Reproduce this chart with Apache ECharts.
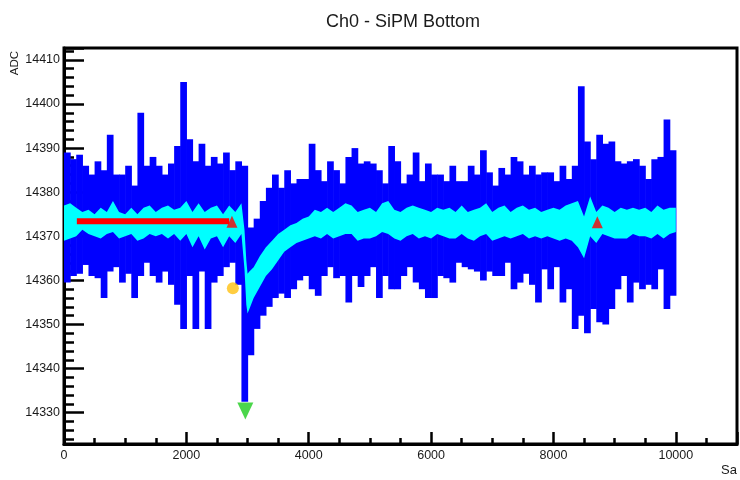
<!DOCTYPE html>
<html><head><meta charset="utf-8">
<script src="https://cdn.jsdelivr.net/npm/echarts@6/dist/echarts.min.js"></script>
<style>html,body{margin:0;padding:0;background:#fff}#c{width:740px;height:480px}</style>
</head><body><div id="c"></div>
<script>
// Raw waveform envelope, one entry per 100-sample bin (0..10000 Sa)
const BIN = 100;
const blueHi = [
14389,14387.5,14388.5,14386,14384,14387,14385,14393,14384,14384,
14386,14381.5,14398,14386,14388,14386,14384,14386.5,14390.5,14405,
14392,14387,14391,14386,14388,14386.5,14389,14385,14387,14386,
14372,14374,14378,14381,14384,14381,14385,14382,14383,14383,
14391,14385,14382.5,14387,14385,14382,14388,14390,14386.5,14387,
14386.5,14385,14382,14390.5,14387,14382,14384,14389,14382.5,14386.5,
14384,14384,14382.5,14386,14382.5,14382.5,14386,14384,14389.5,14384.5,
14381.5,14385.5,14384,14388,14387,14384,14386,14384,14384.5,14384.5,
14382.5,14386,14383,14386,14404,14391.5,14387.5,14393,14391,14391.5,
14387,14386.5,14387,14387.5,14386,14383,14387.5,14388,14396.5,14389.5];
const blueLo = [
14359.5,14361,14361.5,14363.5,14361,14360.5,14356,14362,14363,14359.5,
14361.5,14356,14361,14364,14361,14359.5,14362,14359,14354.5,14349,
14361,14349,14362,14349,14359.5,14361,14363,14364,14359,14332.5,
14343,14349,14352,14354,14356,14357,14356,14358,14360,14361,
14358,14356.5,14361,14363,14360.5,14361,14355,14361,14358.5,14361,
14363,14356,14361,14358,14358,14361,14363,14359.5,14358,14356,
14356,14361,14360.5,14359.5,14364,14363,14362.5,14362,14360,14362,
14361,14361,14364,14358,14359.5,14361.5,14359,14355,14362.5,14358,
14363,14355,14358,14349,14352,14348,14353.5,14350.5,14350,14353.5,
14358,14361,14355,14359.5,14358,14359,14358,14362.5,14353.5,14356.5];

// Smoothed waveform band
const cyanX = [0,100,200,300,400,500,600,700,800,900,1000,1100,1200,1300,1400,1500,1600,1700,1800,1900,
2000,2100,2200,2300,2400,2500,2600,2700,2800,2900,2950,2980,3000,3030,3100,3200,3300,3400,3500,3600,3700,3800,3900,
4000,4100,4200,4300,4400,4500,4600,4700,4800,4900,5000,5100,5200,5300,5400,5500,5600,5700,5800,5900,
6000,6100,6200,6300,6400,6500,6600,6700,6800,6900,7000,7100,7200,7300,7400,7500,7600,7700,7800,7900,
8000,8100,8200,8300,8400,8500,8600,8700,8800,8900,9000,9100,9200,9300,9400,9500,9600,9700,9800,9900,10000];
const cyanHi = [14377,14377.5,14376.5,14375.5,14376,14375,14376.5,14375.5,14378,14375.5,14375,14376.5,14375,14376.5,14377,14375.5,14376.5,14377,14376,14376.5,
14378,14375.5,14377.5,14375.5,14376.5,14377,14375,14377,14375.5,14377.5,14371.5,14364.5,14361.5,14362,14363,14365.5,14367.5,14369,14370.5,14371.5,14372.5,14373,14374,
14374.5,14376,14375.5,14376.5,14375.5,14376.5,14377.5,14377,14375.5,14376,14376.5,14375.5,14377.5,14378,14376,14375.5,14376.5,14377,14376.5,14376,
14375.5,14376.5,14376,14376.5,14375.5,14377,14375.5,14376,14376.5,14377.5,14375.5,14376.5,14377,14375.5,14376.5,14377,14376,14376.5,14375.5,14376,
14376.5,14376,14377,14377.5,14378,14374.5,14379,14375.5,14377,14376.5,14375.5,14376.5,14376,14376.5,14376,14376.5,14375.5,14377,14376,14376.5,14376.5];
const cyanLo = [14369,14369.5,14370,14371.5,14370.5,14370,14369.5,14370.5,14371,14369.5,14370,14370.5,14369,14369.5,14370.5,14370,14370.5,14369.5,14370.5,14369,
14370.5,14367.5,14370,14367,14369.5,14370,14367.5,14370,14368.5,14370.5,14362.5,14354.5,14352.5,14353.5,14356,14358.5,14361,14362.5,14364.5,14366.5,14367.5,14368.5,14369,
14369.5,14370,14369.5,14370.5,14369.5,14370,14370.5,14370.5,14369,14369.5,14369.5,14370,14371,14370.5,14369.5,14369,14370,14370.5,14369.5,14370,
14369.5,14370.5,14370,14369.5,14369.5,14370.5,14369.5,14369,14370,14370.5,14369,14369.5,14370,14369.5,14370,14370.5,14369.5,14370,14369.5,14370,
14369.5,14369,14369.5,14369,14367.5,14365,14370,14368.5,14370.5,14370,14369.5,14369.5,14369.5,14370.5,14370,14370,14369.5,14370.5,14369.5,14370.5,14371];

// Analysis markers
const baseline = [[210, 14373.4], [2700, 14373.4]];
const redMarks = [[2745, 14373.3], [8717, 14373.2]];
const orangeMark = [[2760, 14358.2]];
const greenMark = [[2964, 14330.4]];

const FONT = 'Liberation Sans';
const TXT = '#1a1a1a';
const chart = echarts.init(document.getElementById('c'), null, {renderer: 'canvas'});
const blueData = blueHi.map((h, i) => [i * BIN, (i + 1) * BIN, blueLo[i], h]);
const plain = v => String(Math.round(v));

chart.setOption({
  animation: false,
  backgroundColor: '#fff',
  title: {
    text: 'Ch0 - SiPM Bottom', left: 398, top: 8, textAlign: 'center',
    textStyle: {fontFamily: FONT, fontSize: 18, fontWeight: 'normal', color: TXT}
  },
  grid: {left: 64, right: 3, top: 48, bottom: 36, show: true, borderColor: '#000', borderWidth: 3, backgroundColor: 'transparent'},
  xAxis: {
    type: 'value', min: 0, max: 11000, interval: 2000,
    name: 'Sa', nameLocation: 'end', nameGap: 0,
    nameTextStyle: {fontFamily: FONT, fontSize: 13, color: TXT, align: 'right', verticalAlign: 'top', padding: [20, 0, 0, 0]},
    axisLine: {show: true, lineStyle: {color: '#000', width: 3}},
    axisTick: {inside: true, length: 12, lineStyle: {color: '#000', width: 2.5}},
    minorTick: {show: true, splitNumber: 4, length: 6, lineStyle: {color: '#000', width: 2.5}},
    splitLine: {show: false},
    axisLabel: {fontFamily: FONT, fontSize: 12.5, color: TXT, margin: 5, showMaxLabel: false, formatter: plain}
  },
  yAxis: {
    type: 'value', min: 14322.9, max: 14412.7, splitNumber: 9, scale: true,
    axisLine: {show: true, lineStyle: {color: '#000', width: 3}},
    axisTick: {inside: true, length: 20, lineStyle: {color: '#000', width: 2.5}},
    minorTick: {show: true, splitNumber: 5, length: 10, lineStyle: {color: '#000', width: 2.5}},
    splitLine: {show: false},
    axisLabel: {fontFamily: FONT, fontSize: 12.5, color: TXT, margin: 4, showMinLabel: false, showMaxLabel: false, formatter: plain}
  },
  graphic: [{
    type: 'text', x: 15, y: 51, rotation: Math.PI / 2,
    style: {text: 'ADC', fontFamily: FONT, fontSize: 11.5, fill: TXT, align: 'right', verticalAlign: 'middle'}
  }],
  series: [
    {
      type: 'custom', z: 2, silent: true,
      data: blueData,
      encode: {x: [0, 1], y: [2, 3]},
      renderItem: function (params, api) {
        const p0 = api.coord([api.value(0), api.value(3)]);
        const p1 = api.coord([api.value(1), api.value(2)]);
        return {type: 'rect', shape: {x: p0[0], y: p0[1], width: p1[0] - p0[0] + 0.6, height: p1[1] - p0[1]},
                style: {fill: '#0000ff'}};
      }
    },
    {
      type: 'custom', z: 3, silent: true,
      data: [[5000, 14373]],
      renderItem: function (params, api) {
        const pts = [];
        for (let i = 0; i < cyanX.length; i++) pts.push(api.coord([cyanX[i], cyanHi[i]]));
        for (let i = cyanX.length - 1; i >= 0; i--) pts.push(api.coord([cyanX[i], cyanLo[i]]));
        return {type: 'polygon', shape: {points: pts}, style: {fill: '#00ffff'}};
      }
    },
    {
      type: 'line', z: 4, data: baseline, symbol: 'none', silent: true,
      lineStyle: {color: '#ff0000', width: 6, cap: 'butt'}
    },
    {
      type: 'scatter', z: 5, data: redMarks, symbol: 'triangle', symbolSize: [11, 12], silent: true,
      itemStyle: {color: '#ff0000'}
    },
    {
      type: 'scatter', z: 5, data: orangeMark, symbol: 'circle', symbolSize: 12, silent: true,
      itemStyle: {color: '#ffc010'}
    },
    {
      type: 'scatter', z: 5, data: greenMark, symbol: 'triangle', symbolSize: [16, 17], symbolRotate: 180, silent: true,
      itemStyle: {color: '#1ecc1e'}
    }
  ]
});
</script>
</body></html>
